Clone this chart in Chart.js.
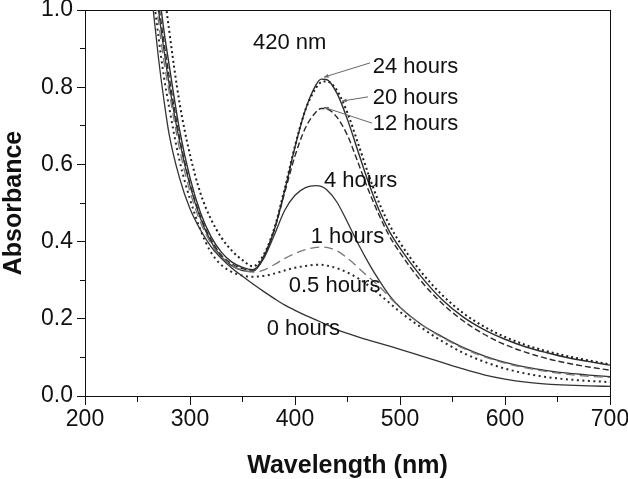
<!DOCTYPE html>
<html>
<head>
<meta charset="utf-8">
<script src="https://cdn.jsdelivr.net/npm/chart.js"></script>
<style>
  html, body { margin: 0; padding: 0; background: #fff; }
  #wrap { width: 628px; height: 479px; position: relative; overflow: hidden; }
</style>
</head>
<body>
<div id="wrap"><canvas id="c" width="628" height="479"></canvas></div>
<script>
// ---- data ----
const wavelengths = [260,265,270,275,280,290,300,310,320,330,340,350,360,370,380,390,400,410,420,425,430,440,450,460,470,480,490,500,520,540,560,580,600,620,640,660,680,700];

const h0  = [1.13,1.0,0.875,0.77,0.68,0.565,0.485,0.43,0.387,0.356,0.331,0.31,0.29,0.271,0.253,0.236,0.222,0.209,0.197,0.191,0.185,0.172,0.162,0.153,0.145,0.137,0.129,0.121,0.104,0.087,0.07,0.055,0.044,0.036,0.031,0.028,0.026,0.025];
const h05 = [1.15,1.04,0.93,0.83,0.75,0.61,0.51,0.43,0.372,0.339,0.321,0.312,0.309,0.311,0.317,0.325,0.332,0.337,0.34,0.34,0.338,0.331,0.32,0.305,0.286,0.264,0.241,0.218,0.178,0.142,0.112,0.089,0.071,0.058,0.049,0.043,0.039,0.036];
const h1  = [1.2,1.08,0.97,0.87,0.79,0.64,0.53,0.45,0.395,0.36,0.338,0.326,0.321,0.326,0.34,0.356,0.369,0.379,0.385,0.386,0.385,0.376,0.357,0.333,0.308,0.285,0.256,0.229,0.186,0.152,0.124,0.102,0.085,0.073,0.063,0.056,0.051,0.048];
const h4  = [1.25,1.12,1.0,0.9,0.81,0.66,0.545,0.46,0.4,0.36,0.337,0.325,0.323,0.355,0.415,0.48,0.52,0.54,0.545,0.543,0.535,0.502,0.45,0.395,0.345,0.3,0.26,0.23,0.186,0.154,0.126,0.104,0.087,0.075,0.066,0.059,0.054,0.05];
const h12 = [1.28,1.14,1.02,0.92,0.83,0.67,0.55,0.465,0.405,0.365,0.342,0.33,0.326,0.36,0.428,0.525,0.622,0.695,0.736,0.745,0.744,0.722,0.675,0.605,0.533,0.469,0.414,0.371,0.298,0.24,0.195,0.16,0.133,0.113,0.097,0.085,0.075,0.067];
const h20 = [1.5,1.33,1.19,1.06,0.95,0.76,0.625,0.525,0.458,0.41,0.376,0.352,0.336,0.365,0.432,0.535,0.648,0.742,0.798,0.813,0.815,0.792,0.733,0.655,0.574,0.501,0.443,0.397,0.322,0.262,0.215,0.18,0.153,0.132,0.116,0.103,0.092,0.082];
const h24 = [1.32,1.18,1.06,0.95,0.86,0.69,0.565,0.475,0.413,0.372,0.347,0.333,0.327,0.36,0.428,0.53,0.645,0.742,0.806,0.821,0.82,0.784,0.716,0.634,0.553,0.482,0.426,0.383,0.31,0.25,0.205,0.172,0.147,0.127,0.112,0.099,0.089,0.08];

const seriesNames = ['0 hours','0.5 hours','1 hours','4 hours','12 hours','20 hours','24 hours'];

const xTicksMajor = [200,300,400,500,600,700];
const yTicksMajor = [0.0,0.2,0.4,0.6,0.8,1.0];

// text annotations (data coordinates)
const noteText = ['420 nm','24 hours','20 hours','12 hours','4 hours','1 hours','0.5 hours','0 hours'];
const noteX    = [360, 474, 474, 474, 427.5, 415, 394, 373];
const noteY    = [0.914, 0.852, 0.772, 0.706, 0.557, 0.412, 0.285, 0.174];
// leader lines: from (x1,y1) near label to (x2,y2) on curve
const leadFromX = [471.5, 469.5, 473.3];
const leadFromY = [0.863, 0.775, 0.707];
const leadToX   = [427.6, 444.8, 427.6];
const leadToY   = [0.826, 0.764, 0.748];

// ---- build ----
const FONT = '"Liberation Sans", Arial, Helvetica, sans-serif';
function pts(vals){ return wavelengths.map((w,i)=>({x:w, y:vals[i]})); }

const styles = [
  {c:'#333333', w:1.3, d:[]},
  {c:'#2a2a2a', w:2.0, d:[2,3.5]},
  {c:'#777777', w:1.3, d:[9,5]},
  {c:'#333333', w:1.3, d:[]},
  {c:'#2a2a2a', w:1.4, d:[6,3]},
  {c:'#1e1e1e', w:2.0, d:[2,3]},
  {c:'#2e2e2e', w:1.4, d:[]},
];
const allVals = [h0,h05,h1,h4,h12,h20,h24];

const datasets = allVals.map((v,i)=>({
  label: seriesNames[i],
  data: pts(v),
  borderColor: styles[i].c,
  borderWidth: styles[i].w,
  borderDash: styles[i].d,
  pointRadius: 0,
  fill: false,
  cubicInterpolationMode: 'monotone',
  xAxisID: 'x', yAxisID: 'y'
}));

const notesPlugin = {
  id: 'notes',
  afterDatasetsDraw(chart){
    const {ctx, scales:{x, y}} = chart;
    ctx.save();
    ctx.strokeStyle = '#666';
    ctx.fillStyle = '#666';
    ctx.lineWidth = 1;
    for (let i=0;i<leadFromX.length;i++){
      const x1 = x.getPixelForValue(leadFromX[i]), y1 = y.getPixelForValue(leadFromY[i]);
      const x2 = x.getPixelForValue(leadToX[i]),   y2 = y.getPixelForValue(leadToY[i]);
      ctx.beginPath(); ctx.moveTo(x1,y1); ctx.lineTo(x2,y2); ctx.stroke();
      const a = Math.atan2(y2-y1, x2-x1), L = 5;
      ctx.beginPath();
      ctx.moveTo(x2,y2);
      ctx.lineTo(x2 - L*Math.cos(a-0.4), y2 - L*Math.sin(a-0.4));
      ctx.lineTo(x2 - L*Math.cos(a+0.4), y2 - L*Math.sin(a+0.4));
      ctx.closePath(); ctx.fill();
    }
    ctx.fillStyle = '#111';
    ctx.font = '22px ' + FONT;
    ctx.textAlign = 'left';
    ctx.textBaseline = 'middle';
    noteText.forEach((t,i)=>{
      ctx.fillText(t, x.getPixelForValue(noteX[i]), y.getPixelForValue(noteY[i]));
    });
    ctx.restore();
  }
};

const black = '#111';
function minorAxis(pos, min, max, step, tl, weight){
  return {
    type:'linear', position:pos, min, max, weight,
    ticks:{display:false, stepSize:step},
    grid:{display:true, drawOnChartArea:false, drawTicks:true, tickLength:tl, color:black, tickWidth:1},
    border:{display:false},
    afterFit(s){ if (s.isHorizontal()) s.height = 0; else s.width = 0; s.paddingLeft = s.paddingRight = s.paddingTop = s.paddingBottom = 0; }
  };
}
function frameAxis(pos, min, max){
  return {
    type:'linear', position:pos, min, max,
    ticks:{display:false},
    grid:{display:true, drawOnChartArea:false, drawTicks:false, color:black},
    border:{display:true, color:black, width:1},
    afterFit(s){ if (s.isHorizontal()) s.height = 0; else s.width = 0; s.paddingLeft = s.paddingRight = s.paddingTop = s.paddingBottom = 0; }
  };
}

new Chart(document.getElementById('c'), {
  type: 'line',
  data: { datasets },
  options: {
    responsive: false,
    animation: false,
    devicePixelRatio: 1,
    layout: { padding: { left: 0, right: 18, top: 10, bottom: 0 } },
    plugins: { legend: { display: false }, tooltip: { enabled: false } },
    scales: {
      x: {
        type: 'linear', position: 'bottom', min: 200, max: 700, weight: 10,
        afterBuildTicks(s){ s.ticks = xTicksMajor.map(v=>({value:v})); },
        ticks: { color: black, font: { family: FONT, size: 23, lineHeight: 1.0 }, padding: 3, maxRotation: 0 },
        grid: { display:true, drawOnChartArea:false, tickLength: 9, color: black, tickWidth: 1 },
        border: { display:true, color: black, width: 1 },
        title: { display: true, text: 'Wavelength (nm)', color: black, font: { family: FONT, size: 25, weight: 'bold', lineHeight: 1.0 }, padding: {top:0, bottom:0} },
        afterFit(s){ s.height = 83; s.paddingLeft = 0; s.paddingRight = 0; }
      },
      xMinor: minorAxis('bottom', 200, 700, 50, 6, 0),
      xTop: frameAxis('top', 200, 700),
      y: {
        type: 'linear', position: 'left', min: 0, max: 1, weight: 10,
        afterBuildTicks(s){ s.ticks = yTicksMajor.map(v=>({value:v})); },
        ticks: { color: black, font: { family: FONT, size: 23, lineHeight: 1.0 }, padding: 4, callback: v => Number(v).toFixed(1) },
        grid: { display:true, drawOnChartArea:false, tickLength: 8, color: black, tickWidth: 1 },
        border: { display:true, color: black, width: 1 },
        title: { display: true, text: 'Absorbance', color: black, font: { family: FONT, size: 25, weight: 'bold', lineHeight: 1.1 }, padding: {top:0, bottom:0} },
        afterFit(s){ s.width = 85; s.paddingTop = 0; s.paddingBottom = 0; }
      },
      yMinor: minorAxis('left', 0, 1, 0.1, 5, 0),
      yRight: frameAxis('right', 0, 1)
    }
  },
  plugins: [notesPlugin]
});
</script>
</body>
</html>
